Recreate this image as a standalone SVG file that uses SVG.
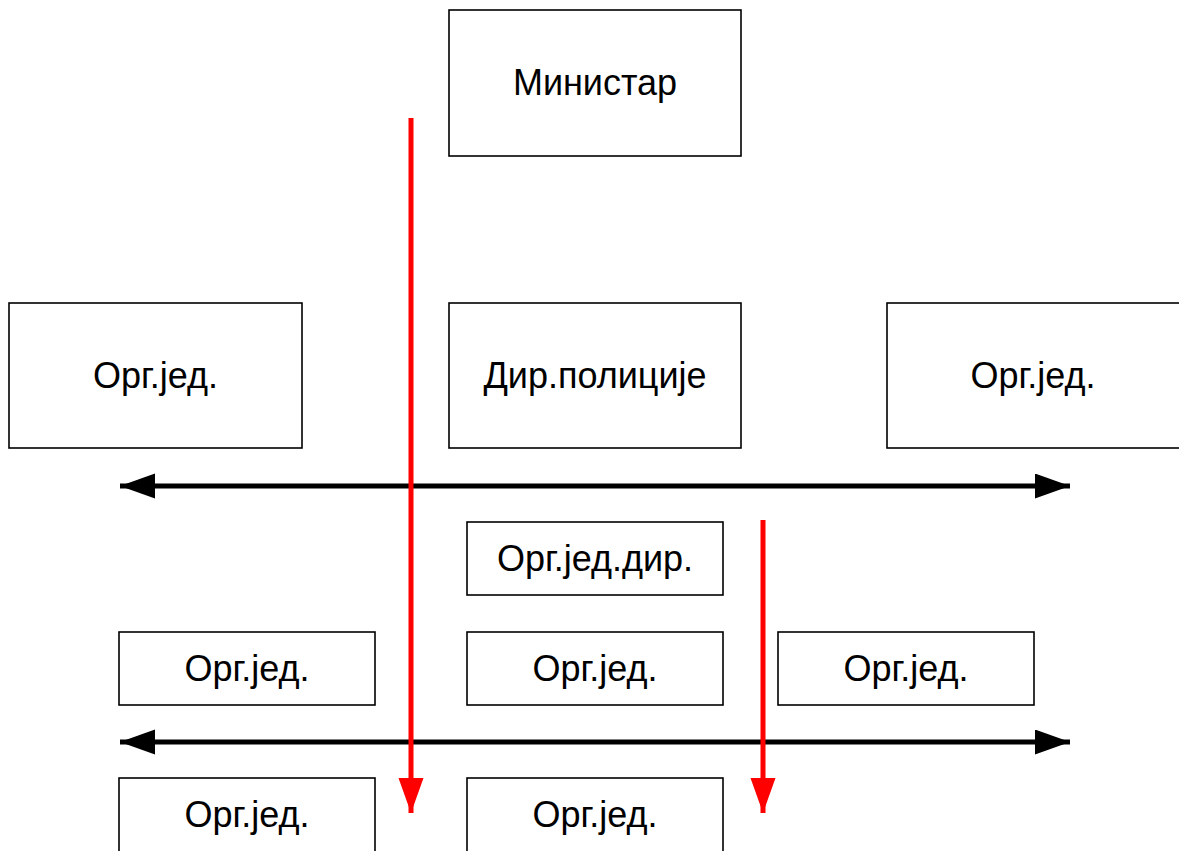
<svg xmlns="http://www.w3.org/2000/svg" width="1179" height="851" viewBox="0 0 1179 851">
<style>
.box{fill:#fff;stroke:#000;stroke-width:1.6}
.t{font-family:"Liberation Sans",Arial,sans-serif;font-size:36px;fill:#000;text-anchor:middle}
.blk{stroke:#000;stroke-width:5;fill:none}
.red{stroke:#f00;stroke-width:5;fill:none}
</style>
<defs>
<marker id="ab" markerUnits="userSpaceOnUse" markerWidth="36" markerHeight="26" refX="35" refY="12.5" orient="auto-start-reverse"><path d="M0,0 L35,12.5 L0,25 Z" fill="#000"/></marker>
<marker id="ar" markerUnits="userSpaceOnUse" markerWidth="36" markerHeight="26" refX="35" refY="12.5" orient="auto"><path d="M0,0 L35,12.5 L0,25 Z" fill="#f00"/></marker>
</defs>
<rect width="1179" height="851" fill="#fff"/>
<g id="n-ministar"><rect class="box" x="449" y="10" width="292" height="146"/><text class="t" x="595" y="95">Министар</text></g>
<g id="n-org1"><rect class="box" x="9" y="303" width="293" height="145"/><text class="t" x="155.5" y="388">Орг.јед.</text></g>
<g id="n-dir"><rect class="box" x="449" y="303" width="292" height="145"/><text class="t" x="595" y="388">Дир.полиције</text></g>
<g id="n-org2"><rect class="box" x="887" y="303" width="296" height="145"/><text class="t" x="1033" y="388">Орг.јед.</text></g>
<g id="n-orgdir"><rect class="box" x="467" y="522" width="256" height="73"/><text class="t" x="595" y="571">Орг.јед.дир.</text></g>
<g id="n-org3"><rect class="box" x="119" y="632" width="256" height="73"/><text class="t" x="247" y="681">Орг.јед.</text></g>
<g id="n-org4"><rect class="box" x="467" y="632" width="256" height="73"/><text class="t" x="595" y="681">Орг.јед.</text></g>
<g id="n-org5"><rect class="box" x="778" y="632" width="256" height="73"/><text class="t" x="906" y="681">Орг.јед.</text></g>
<g id="n-org6"><rect class="box" x="119" y="778" width="256" height="80"/><text class="t" x="247" y="827">Орг.јед.</text></g>
<g id="n-org7"><rect class="box" x="467" y="778" width="256" height="80"/><text class="t" x="595" y="827">Орг.јед.</text></g>
<g id="connectors">
<line class="blk" x1="120" y1="486" x2="1070" y2="486" marker-start="url(#ab)" marker-end="url(#ab)"/>
<line class="blk" x1="120" y1="742" x2="1070" y2="742" marker-start="url(#ab)" marker-end="url(#ab)"/>
<line class="red" x1="411" y1="118" x2="411" y2="813" marker-end="url(#ar)"/>
<line class="red" x1="763" y1="520" x2="763" y2="813" marker-end="url(#ar)"/>
</g>
</svg>
